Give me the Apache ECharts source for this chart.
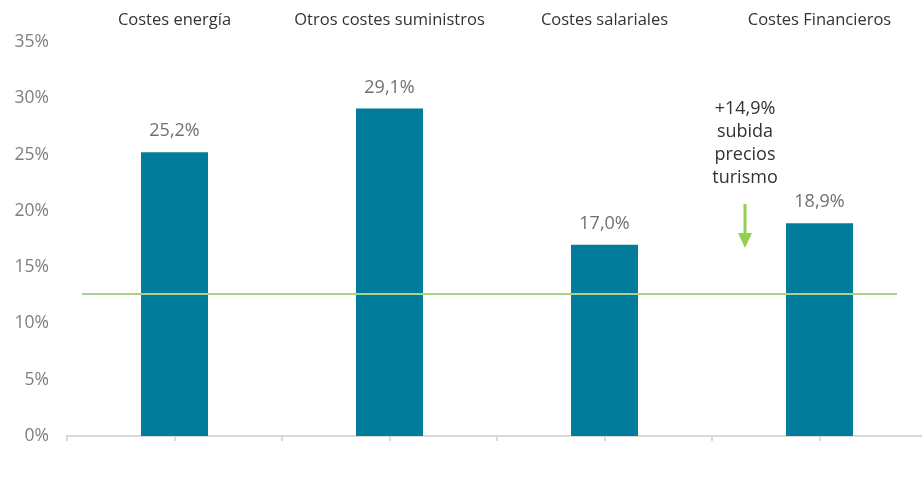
<!DOCTYPE html>
<html>
<head>
<meta charset="utf-8">
<script src="https://cdn.jsdelivr.net/npm/echarts@6/dist/echarts.min.js"></script>
<style>
  html, body { margin: 0; padding: 0; background: #fff; overflow: hidden; }
  /* algo más ancho que la ventana: el eje llega hasta el borde */
  #chart { width: 930px; height: 485px; }
</style>
</head>
<body>
<div id="chart"></div>
<script>
// datos
const categories = ['Costes energía', 'Otros costes suministros', 'Costes salariales', 'Costes Financieros'];
const values = [25.2, 29.1, 17.0, 18.9];
const referenceValue = 12.6; // línea verde
const annotationLines = ['+14,9%', 'subida', 'precios', 'turismo'];

const FONT = '"Open Sans", Lato, sans-serif';
const BAR_COLOR = '#027c9b';
const GREEN = '#92d050';

const fmt = v => v.toFixed(1).replace('.', ',') + '%';

const chart = echarts.init(document.getElementById('chart'));

const option = {
    animation: false,
    textStyle: { fontFamily: FONT },
    grid: { left: 67, right: 3, top: 42, bottom: 49 },
    xAxis: [
        {
            type: 'category',
            position: 'top',
            data: categories,
            axisLine: { show: false },
            axisTick: { show: false },
            axisLabel: { color: '#333', fontSize: 16.5, margin: 13, interval: 0 }
        },
        {
            // solo para la línea base y las marcas
            type: 'category',
            position: 'bottom',
            data: categories.flatMap(() => ['', '']),
            axisLine: { show: true, lineStyle: { color: '#d9d9d9', width: 2 } },
            axisTick: { show: true, length: 5, lineStyle: { color: '#d9d9d9', width: 2 } },
            axisLabel: { show: false }
        }
    ],
    yAxis: {
        type: 'value',
        min: 0,
        max: 35,
        interval: 5,
        splitLine: { show: false },
        axisLine: { show: false },
        axisTick: { show: false },
        axisLabel: { color: '#7f7f7f', fontSize: 17.5, margin: 18, formatter: v => v + '%' }
    },
    series: [
        {
            type: 'bar',
            xAxisIndex: 0,
            data: values,
            barWidth: 67,
            itemStyle: { color: BAR_COLOR },
            label: {
                show: true,
                position: 'top',
                distance: 12,
                color: '#707070',
                fontSize: 18,
                formatter: p => fmt(p.value)
            },
            z: 2
        }
    ]
};

chart.setOption(option);

// línea de referencia y anotación (posiciones en píxeles a partir de las escalas)
const yRef = chart.convertToPixel({ yAxisIndex: 0 }, referenceValue);
chart.setOption({
    series: [{
        markLine: {
            silent: true,
            symbol: 'none',
            label: { show: false },
            lineStyle: { color: '#a9d18e', width: 2, type: 'solid' },
            z: 5,
            data: [[{ x: 82, y: yRef }, { x: 897, y: yRef }]]
        }
    }],
    graphic: [
        {
            type: 'text',
            left: 745 - 60,
            top: 97,
            style: {
                text: annotationLines.join('\n'),
                width: 120,
                align: 'center',
                textAlign: 'center',
                fill: '#333',
                font: '18px ' + FONT,
                lineHeight: 23,
                x: 60
            }
        },
        {
            type: 'line',
            shape: { x1: 745, y1: 204, x2: 745, y2: 236 },
            style: { stroke: GREEN, lineWidth: 3 }
        },
        {
            type: 'polygon',
            shape: { points: [[738, 233], [752, 233], [745, 248]] },
            style: { fill: GREEN }
        }
    ]
});
</script>
</body>
</html>
